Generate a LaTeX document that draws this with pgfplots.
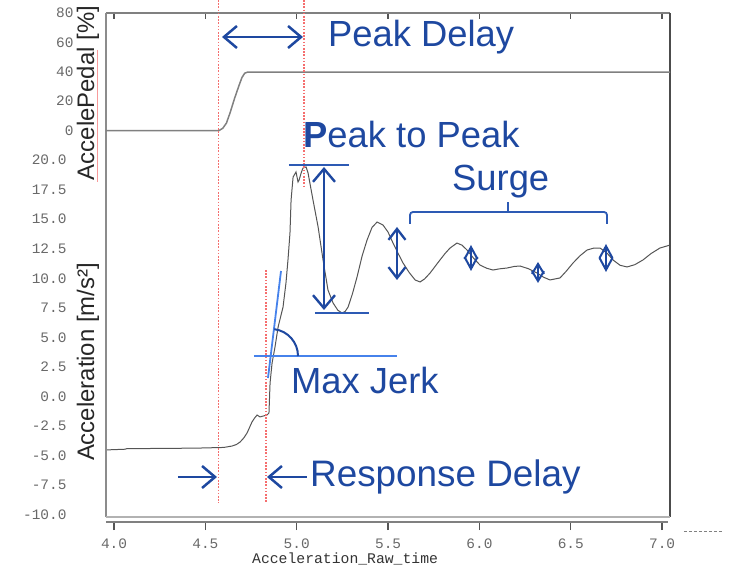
\documentclass[border=0pt]{standalone}
\usepackage{pgfplots}
\usepackage{pgfplotstable}
\pgfplotsset{compat=1.18}
\usepackage{fontspec}
\setmainfont{Liberation Sans}
\newfontfamily\monofont{Liberation Mono}
\usetikzlibrary{arrows.meta}
\definecolor{ablue}{RGB}{30,72,160}
\definecolor{mblue}{RGB}{45,90,180}
\definecolor{lblue}{RGB}{70,130,235}
\definecolor{rline}{RGB}{245,110,110}
\definecolor{tgray}{RGB}{105,105,105}
\definecolor{cgray}{RGB}{85,85,85}

\pgfplotstableread{
t a
3.956 -4.51
4.060 -4.45
4.070 -4.40
4.300 -4.38
4.471 -4.35
4.600 -4.30
4.646 -4.18
4.670 -4.05
4.690 -3.84
4.710 -3.50
4.728 -3.08
4.742 -2.60
4.755 -2.15
4.770 -1.80
4.783 -1.56
4.799 -1.72
4.815 -1.65
4.837 -1.56
4.848 -1.39
4.854 1.15
4.865 2.84
4.881 4.19
4.898 5.88
4.925 7.57
4.941 9.60
4.952 11.55
4.963 13.83
4.969 16.62
4.980 18.56
4.996 18.99
5.007 18.14
5.013 18.31
5.024 18.90
5.034 19.32
5.051 19.41
5.062 18.90
5.075 17.80
5.089 16.62
5.117 14.34
5.144 11.55
5.171 9.01
5.199 7.91
5.225 7.30
5.248 7.07
5.265 7.20
5.281 7.57
5.305 8.70
5.330 10.11
5.358 11.90
5.385 13.24
5.412 14.30
5.440 14.76
5.472 14.51
5.500 13.90
5.527 12.98
5.555 12.10
5.582 11.29
5.615 10.50
5.648 9.86
5.675 9.69
5.700 9.95
5.730 10.45
5.757 11.00
5.784 11.55
5.812 12.10
5.839 12.56
5.877 12.98
5.905 12.80
5.932 12.39
5.968 11.70
6.003 11.12
6.040 10.85
6.074 10.70
6.110 10.80
6.151 10.87
6.190 11.00
6.222 11.04
6.270 10.80
6.315 10.45
6.350 10.10
6.386 9.86
6.441 10.03
6.475 10.60
6.512 11.29
6.550 11.90
6.589 12.39
6.625 12.55
6.660 12.56
6.700 12.10
6.731 11.55
6.770 11.10
6.808 10.96
6.850 11.15
6.895 11.55
6.940 12.10
6.988 12.56
7.043 12.81
}\accdata

\pgfplotstableread{
t p
3.956 0
4.575 0
4.595 1.5
4.615 5
4.635 12
4.660 22
4.685 31
4.700 36
4.715 39
4.730 39.7
7.043 39.7
}\peddata

\begin{document}
\begin{tikzpicture}
\useasboundingbox (-106bp,-54bp) rectangle (624bp,517bp);
\begin{axis}[
  at={(0,0)}, anchor=south west, scale only axis,
  width=564bp, height=504bp,
  xmin=3.956, xmax=7.043, ymin=-10.18, ymax=32.43,
  axis line style={draw=none},
  clip=false,
  xtick={4,4.5,5,5.5,6,6.5,7},
  xticklabels={4.0,4.5,5.0,5.5,6.0,6.5,7.0},
  ytick={-10,-7.5,-5,-2.5,0,2.5,5,7.5,10,12.5,15,17.5,20},
  yticklabels={-10.0,-7.5,-5.0,-2.5,0.0,2.5,5.0,7.5,10.0,12.5,15.0,17.5,20.0},
  ytick style={draw=none},
  tick align=outside,
  major tick length=7bp,
  xtick style={draw=cgray, line width=1.3bp, yshift=-6bp},
  tick label style={font=\monofont\fontsize{14.5}{14.5}\selectfont, text=tgray},
  yticklabel style={xshift=-29bp},
  xticklabel style={yshift=-11bp},
]
\addplot[cgray, line width=1bp] table[x=t, y=a] {\accdata};
\draw[gray, line width=1.4bp] (rel axis cs:0,1) -- (rel axis cs:1,1);
\draw[gray!90, line width=2.4bp] (rel axis cs:0,0) -- (rel axis cs:0,1);
\draw[black!70, line width=2bp] (rel axis cs:1,0) -- (rel axis cs:1,1);
\draw[gray!60, line width=1.2bp] (rel axis cs:0,0) -- (rel axis cs:1,0);
\draw[gray, line width=1.3bp] ([yshift=-5bp]rel axis cs:0,0) -- ([yshift=-5bp]rel axis cs:0.997,0);
\end{axis}
\begin{axis}[
  at={(0,0)}, anchor=south west, scale only axis,
  width=564bp, height=504bp,
  xmin=3.956, xmax=7.043, ymin=-263.1, ymax=80,
  axis line style={draw=none},
  xtick=\empty,
  ytick={0,20,40,60,80},
  yticklabels={0,20,40,60,80},
  ytick style={draw=none},
  tick label style={font=\monofont\fontsize{14.5}{14.5}\selectfont, text=tgray},
  yticklabel style={xshift=-29bp},
]
\addplot[gray, line width=1.5bp] table[x=t, y=p] {\peddata};
\end{axis}

\begin{scope}[shift={(-106bp,517bp)}, x=1bp, y=-1bp]
  % red marker lines
  \draw[rline, line width=1.1bp, dash pattern=on 1.6bp off 1.6bp] (218.5,0) -- (218.5,503);
  \draw[rline, line width=1.1bp, dash pattern=on 1.6bp off 1.6bp] (304,0) -- (304,187);
  \draw[rline, line width=1.1bp, dash pattern=on 1.6bp off 1.6bp] (266,270) -- (266,502);
  \draw[rline!70, line width=1bp] (98,50) -- (98,182);
  % axis labels
  \node[rotate=90, font=\fontsize{24}{24}\selectfont, text=black!85] at (88,93) {AccelePedal [\%]};
  \node[rotate=90, font=\fontsize{24}{24}\selectfont, text=black!85] at (88,362) {Acceleration [m/s²]};
  \node[anchor=west, font=\monofont\fontsize{14.8}{14.8}\selectfont, text=black!80, inner sep=0pt] at (252,559) {Acceleration\_Raw\_time};
  \draw[gray, line width=1bp, dash pattern=on 3bp off 2bp] (684,532) -- (724,532);
  % annotations
  \tikzset{barb/.style={ablue, line width=2.5bp, arrows={Straight Barb[length=13bp,width=22bp]-Straight Barb[length=13bp,width=22bp]}},
           rbarb/.style={ablue, line width=2.5bp, arrows={-Straight Barb[length=13bp,width=22bp]}}}
  \draw[barb] (222,37) -- (303,37);
  \node[anchor=base west, inner sep=0pt, text=ablue, font=\fontsize{36.5}{40}\selectfont] at (328,47) {Peak Delay};
  \node[anchor=base west, inner sep=0pt, text=ablue, font=\fontsize{36.5}{40}\selectfont] at (303,148) {\textbf{P}eak to Peak};
  \node[anchor=base west, inner sep=0pt, text=ablue, font=\fontsize{36.5}{40}\selectfont] at (452,191) {Surge};
  \node[anchor=base west, inner sep=0pt, text=ablue, font=\fontsize{36.5}{40}\selectfont] at (291,394) {Max Jerk};
  \node[anchor=base west, inner sep=0pt, text=ablue, font=\fontsize{37}{40}\selectfont] at (310,487) {Response Delay};
  \draw[rbarb] (178,477) -- (217,477);
  \draw[rbarb] (307,477) -- (267,477);
  % peak to peak
  \draw[mblue, line width=2.2bp] (289,165) -- (349,165);
  \draw[mblue, line width=2.2bp] (315,313) -- (369,313);
  \draw[barb, line width=2.4bp] (324,167) -- (324,310);
  % surge
  \draw[mblue, line width=1.8bp, rounded corners=3bp] (410,224) -- (410,212) -- (607,212) -- (607,224);
  \draw[mblue, line width=1.8bp] (508,212) -- (508,202);
  \draw[ablue, line width=2.3bp, arrows={Straight Barb[length=11bp,width=17bp]-Straight Barb[length=11bp,width=17bp]}] (397,227) -- (397,280);
  \draw[ablue, line width=2bp, arrows={Straight Barb[length=12bp,width=13bp]-Straight Barb[length=12bp,width=13bp]}] (471,245) -- (471,271);
  \draw[ablue, line width=2bp, arrows={Straight Barb[length=10bp,width=12bp]-Straight Barb[length=10bp,width=12bp]}] (538,262) -- (538,283);
  \draw[ablue, line width=2bp, arrows={Straight Barb[length=12bp,width=13bp]-Straight Barb[length=12bp,width=13bp]}] (606,244) -- (606,272);
  % max jerk
  \draw[lblue, line width=1.8bp] (254,356) -- (397,356);
  \draw[lblue, line width=1.8bp] (268,378) -- (281,271);
  \draw[ablue, line width=2bp] (298,356) arc[start angle=0, end angle=-83, radius=27];
\end{scope}
\end{tikzpicture}
\end{document}
